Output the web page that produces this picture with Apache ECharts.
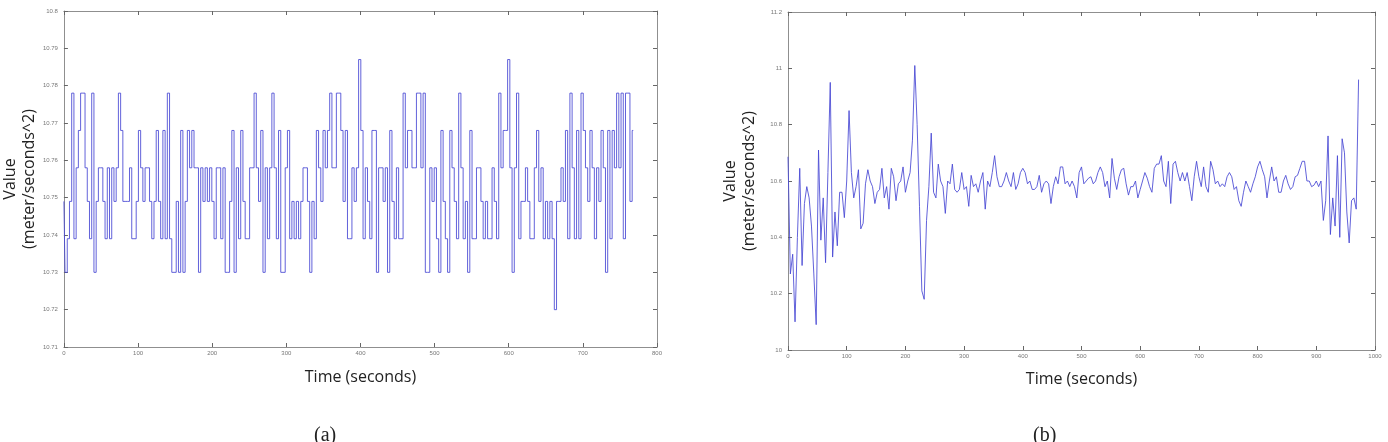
<!DOCTYPE html>
<html>
<head>
<meta charset="utf-8">
<title>accelerometer value over time</title>
<script src="https://cdn.jsdelivr.net/npm/echarts@6/dist/echarts.min.js"></script>
<style>
html, body { margin: 0; padding: 0; background: #fff; }
#chart { width: 1388px; height: 442px; }
</style>
</head>
<body>
<div id="chart"></div>
<script>
// (a) one value every 3 seconds
var stepA = 3;
var valuesA = [
    10.749,10.730,10.739,10.749,10.778,10.739,10.758,10.768,10.778,10.778,
    10.758,10.749,10.739,10.778,10.730,10.749,10.758,10.758,10.749,10.739,
    10.758,10.739,10.758,10.749,10.758,10.778,10.768,10.749,10.749,10.749,
    10.758,10.739,10.739,10.749,10.768,10.758,10.749,10.758,10.758,10.749,
    10.739,10.749,10.768,10.749,10.739,10.768,10.739,10.778,10.739,10.730,
    10.730,10.749,10.730,10.768,10.730,10.749,10.768,10.758,10.768,10.758,
    10.758,10.730,10.758,10.749,10.758,10.749,10.758,10.749,10.739,10.758,
    10.758,10.739,10.758,10.730,10.730,10.749,10.768,10.730,10.758,10.739,
    10.768,10.749,10.739,10.739,10.758,10.758,10.778,10.758,10.749,10.768,
    10.730,10.758,10.739,10.758,10.778,10.758,10.739,10.768,10.730,10.730,
    10.758,10.768,10.739,10.749,10.739,10.749,10.739,10.749,10.758,10.758,
    10.749,10.730,10.749,10.739,10.768,10.758,10.749,10.768,10.758,10.768,
    10.778,10.758,10.758,10.778,10.778,10.768,10.749,10.768,10.739,10.739,
    10.758,
    10.749,10.758,10.787,10.768,10.739,10.758,10.749,10.739,10.768,10.768,
    10.730,10.758,10.758,10.749,10.758,10.730,10.768,10.749,10.739,10.758,
    10.739,10.739,10.778,10.758,10.768,10.768,10.758,10.758,10.778,10.778,
    10.758,10.778,10.730,10.730,10.758,10.749,10.758,10.739,10.730,10.768,
    10.749,10.739,10.730,10.768,10.758,10.749,10.739,10.778,10.758,10.739,
    10.749,10.730,10.768,10.739,10.739,10.758,10.758,10.749,10.739,10.749,
    10.739,10.739,10.758,10.749,10.739,10.778,10.758,10.768,10.768,10.787,
    10.758,10.730,10.758,10.778,10.739,10.749,10.749,10.758,10.749,10.739,
    10.739,10.758,10.768,10.749,10.758,10.739,10.749,10.739,10.749,10.739,
    10.720,10.749,10.749,10.758,10.749,10.768,10.739,10.778,10.758,10.739,
    10.768,10.739,10.778,10.768,10.758,10.749,10.768,10.758,10.739,10.758,
    10.749,10.768,10.758,10.730,10.768,10.739,10.768,10.758,10.778,10.758,
    10.778,10.739,10.778,10.778,10.749,10.768
];

// (b) one value every 4 seconds
var stepB = 4;
var valuesB = [
    10.686,10.27,10.34,10.10,10.40,10.645,10.30,10.52,10.58,10.54,
    10.44,10.27,10.09,10.71,10.39,10.54,10.31,10.63,10.95,10.33,
    10.49,10.37,10.56,10.56,10.47,10.60,10.85,10.63,10.54,10.58,
    10.64,10.43,10.45,10.59,10.64,10.60,10.58,10.52,10.56,10.57,
    10.645,10.54,10.58,10.50,10.645,10.615,10.53,10.59,10.60,10.65,
    10.56,10.60,10.63,10.745,11.01,10.80,10.51,10.21,10.18,10.46,
    10.58,10.77,10.56,10.54,10.66,10.60,10.58,10.485,10.60,10.59,
    10.66,10.57,10.56,10.57,10.63,10.57,10.58,10.51,10.62,10.58,
    10.59,10.56,10.60,10.63,10.50,10.60,10.58,10.63,10.69,10.615,
    10.58,10.58,10.60,10.63,10.60,10.58,10.63,10.57,10.59,10.63,
    10.645,10.63,10.59,10.60,10.57,10.57,10.58,10.62,10.56,10.59,
    10.60,10.59,10.52,10.58,10.615,10.59,10.65,10.65,10.59,10.60,
    10.58,10.60,10.58,10.54,10.63,10.65,10.59,
    10.60,10.61,10.615,10.59,10.60,10.63,10.65,10.63,10.58,10.60,
    10.54,10.68,10.61,10.57,10.615,10.64,10.645,10.59,10.55,10.58,
    10.58,10.60,10.54,10.57,10.60,10.63,10.61,10.58,10.56,10.645,
    10.66,10.66,10.69,10.60,10.58,10.67,10.52,10.66,10.67,10.63,
    10.60,10.63,10.60,10.63,10.58,10.53,10.615,10.67,10.615,10.58,
    10.65,10.58,10.56,10.67,10.64,10.59,10.60,10.58,10.59,10.58,
    10.615,10.63,10.615,10.57,10.58,10.53,10.51,10.56,10.60,10.58,
    10.56,10.59,10.615,10.65,10.67,10.64,10.615,10.54,10.60,10.65,
    10.60,10.615,10.56,10.56,10.60,10.62,10.59,10.57,10.58,10.615,
    10.62,10.645,10.67,10.67,10.60,10.60,10.58,10.585,10.60,10.58,
    10.60,10.46,10.53,10.76,10.41,10.54,10.44,10.69,10.40,10.75,
    10.70,10.49,10.38,10.53,10.54,10.50,10.96
];

// axis ranges [min, max, interval]
var xRangeA = [0, 800, 100];
var yRangeA = [10.71, 10.8, 0.01];
var xRangeB = [0, 1000, 100];
var yRangeB = [10, 11.2, 0.2];

var xName = 'Time (seconds)';
var yName = 'Value\n(meter/seconds^2)';

var frameColor = '#8f8f8f';
var nameStyle = { fontFamily: 'Open Sans', fontSize: 16, color: '#222', lineHeight: 19 };

function toPairs(values, step) {
    var out = [];
    for (var i = 0; i < values.length; i++) {
        out.push([i * step, values[i]]);
    }
    return out;
}

function makeAxis(grid, range, pos, digits, extra) {
    var ax = {
        gridIndex: grid,
        type: 'value',
        position: pos,
        min: range[0],
        max: range[1],
        interval: range[2],
        axisLine: { onZero: false, lineStyle: { color: frameColor, width: 1 } },
        axisTick: { inside: true, length: 4, lineStyle: { color: '#666' } },
        axisLabel: {
            show: pos == 'bottom' || pos == 'left',
            fontSize: 6,
            color: '#777',
            margin: pos == 'left' ? 6 : 3,
            formatter: function (v) { return String(+v.toFixed(digits)); }
        },
        splitLine: { show: false }
    };
    for (var k in extra) ax[k] = extra[k];
    return ax;
}

var chart = echarts.init(document.getElementById('chart'));

var option = {
    animation: false,
    backgroundColor: '#fff',
    grid: [
        { left: 56, top: 11, width: 601, height: 336 },
        { left: 788, top: 12, width: 587, height: 338 }
    ],
    xAxis: [
        makeAxis(0, xRangeA, 'bottom', 0, { name: xName, nameLocation: 'middle', nameGap: 21, nameTextStyle: nameStyle }),
        makeAxis(0, xRangeA, 'top', 0, {}),
        makeAxis(1, xRangeB, 'bottom', 0, { name: xName, nameLocation: 'middle', nameGap: 20, nameTextStyle: nameStyle }),
        makeAxis(1, xRangeB, 'top', 0, {})
    ],
    yAxis: [
        makeAxis(0, yRangeA, 'left', 2, { name: yName, nameLocation: 'middle', nameRotate: 90, nameGap: 22, nameTextStyle: nameStyle }),
        makeAxis(0, yRangeA, 'right', 2, {}),
        makeAxis(1, yRangeB, 'left', 1, { name: yName, nameLocation: 'middle', nameRotate: 90, nameGap: 29, nameTextStyle: nameStyle }),
        makeAxis(1, yRangeB, 'right', 1, {})
    ],
    series: [
        {
            type: 'line',
            xAxisIndex: 0,
            yAxisIndex: 0,
            step: 'middle',
            data: toPairs(valuesA, stepA),
            showSymbol: false,
            lineStyle: { color: '#4747d4', width: 1, opacity: 0.85 }
        },
        {
            type: 'line',
            xAxisIndex: 2,
            yAxisIndex: 2,
            data: toPairs(valuesB, stepB),
            showSymbol: false,
            lineStyle: { color: '#4747d4', width: 1, opacity: 0.85 }
        }
    ],
    graphic: [
        { type: 'text', left: 314, top: 426, style: { text: '(a)', font: '20px "Liberation Serif"', fill: '#222' } },
        { type: 'text', left: 1033, top: 426, style: { text: '(b)', font: '20px "Liberation Serif"', fill: '#222' } }
    ]
};

chart.setOption(option);
</script>
</body>
</html>
